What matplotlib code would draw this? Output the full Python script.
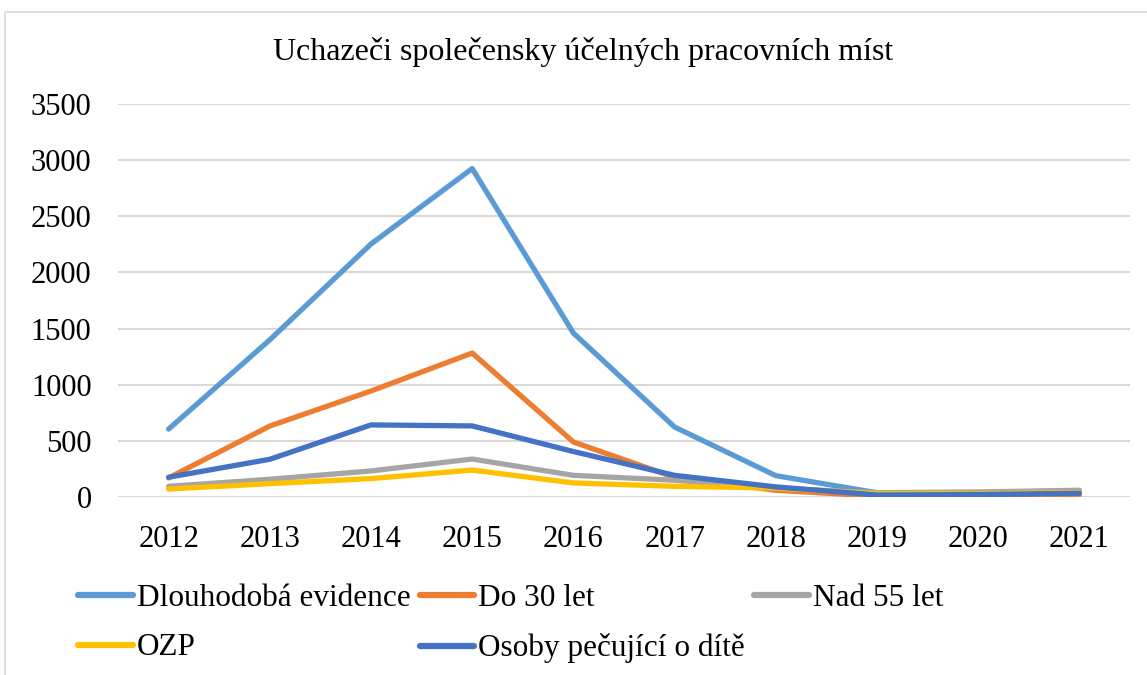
import numpy as np
import matplotlib.pyplot as plt
from matplotlib.patches import Rectangle

plt.rcParams['font.family'] = ['Liberation Serif', 'DejaVu Serif']

years = ['2012', '2013', '2014', '2015', '2016', '2017', '2018', '2019', '2020', '2021']
dlouhodoba = [605, 1400, 2253, 2925, 1460, 623, 190, 38, 38, 55]
do30 = [170, 632, 944, 1282, 490, 175, 60, 8, 12, 22]
nad55 = [95, 158, 232, 338, 193, 149, 78, 38, 45, 60]
ozp = [71, 119, 164, 240, 125, 95, 80, 30, 30, 40]
osoby = [176, 336, 642, 633, 405, 193, 90, 18, 22, 33]

series = [
    ('Dlouhodobá evidence', dlouhodoba, '#5B9BD5'),
    ('Do 30 let', do30, '#ED7D31'),
    ('Nad 55 let', nad55, '#A5A5A5'),
    ('OZP', ozp, '#FFC000'),
    ('Osoby pečující o dítě', osoby, '#4472C4'),
]

fig = plt.figure(figsize=(11.47, 6.75), dpi=100)
ax = fig.add_axes([118 / 1147, 1 - 497 / 675, 1012 / 1147, 393 / 675])

x = np.arange(len(years))
handles = {}
for name, vals, col in series:
    h, = ax.plot(x, vals, color=col, linewidth=3.8, solid_capstyle='round',
                 solid_joinstyle='round', label=name)
    handles[name] = h

ax.set_xlim(-0.5, len(years) - 0.5)
ax.set_ylim(0, 3500)
ax.set_yticks(np.arange(0, 3501, 500))
ax.set_xticks(x)
ax.set_xticklabels(years)
ax.tick_params(axis='both', length=0, labelsize=22, colors='black')
ax.tick_params(axis='x', pad=20)
ax.tick_params(axis='y', pad=19)
ax.grid(axis='y', color='#D9D9D9', linewidth=1.5)
ax.set_axisbelow(True)
for s in ax.spines.values():
    s.set_visible(False)

fig.text(0.508, 1 - 52 / 675, 'Uchazeči společensky účelných pracovních míst',
         ha='center', va='center', fontsize=23)

# Excel-like row-wise legend: reorder so columns fill correctly
order = ['Dlouhodobá evidence', 'OZP', 'Do 30 let', 'Osoby pečující o dítě', 'Nad 55 let']
leg = fig.legend([handles[n] for n in order], order, ncol=3, frameon=False,
                 fontsize=22.5, handlelength=1.75, handletextpad=0.12, columnspacing=0.3,
                 labelspacing=0.65, loc='upper left', bbox_to_anchor=(50 / 1147, 1 - 556 / 675))
for h in leg.legend_handles:
    h.set_linewidth(4.5)

fig.patches.append(Rectangle((5 / 1147, -0.01), 1.0, 1 - 12 / 675 + 0.01,
                             transform=fig.transFigure, fill=False,
                             edgecolor='#D9D9D9', linewidth=1.2))

fig.savefig('out.png', dpi=100, facecolor='white')
